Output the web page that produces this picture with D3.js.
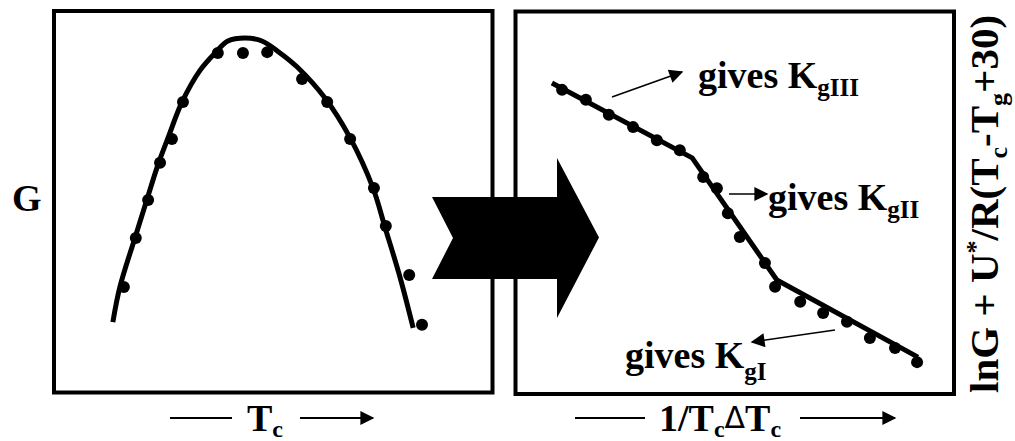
<!DOCTYPE html>
<html>
<head>
<meta charset="utf-8">
<script src="https://cdn.jsdelivr.net/npm/d3@7"></script>
<style>
  html, body { margin: 0; padding: 0; background: #fff; }
  svg text { font-family: "Liberation Serif", "Times New Roman", serif; font-weight: bold; fill: #000; }
</style>
</head>
<body>
<svg id="fig" width="1015" height="441"></svg>
<script>
// Left panel: growth rate G against crystallization temperature Tc (relative units 0-100)
const growthCurveX = [13.8, 15.4, 18.8, 21.5, 24.0, 26.3, 29.5, 33.6, 37.0, 39.9, 43.8, 47.6, 51.7, 55.6, 61.9, 67.6, 72.8, 75.5, 78.9, 81.9];
const growthCurveY = [18.5, 27.7, 40.5, 50.4, 59.5, 66.6, 76.0, 84.3, 88.8, 91.9, 92.7, 91.9, 88.8, 85.1, 77.0, 66.6, 53.5, 43.3, 30.3, 17.0];
const growthPointsX = [16.3, 19.0, 21.8, 24.5, 27.2, 29.7, 37.6, 43.3, 48.8, 56.7, 62.4, 67.6, 73.0, 75.7, 81.0, 83.9];
const growthPointsY = [27.7, 40.5, 50.4, 60.1, 66.3, 76.0, 88.8, 88.8, 89.0, 82.0, 76.0, 66.3, 53.5, 43.6, 30.8, 17.8];

// Right panel: Lauritzen-Hoffman plot, three regimes joined by straight segments
const lhLineX = [8.6, 40.4, 59.6, 91.6];
const lhLineY = [81.0, 61.5, 29.7, 9.6];
const lhPointsX = [10.9, 16.3, 21.5, 27.0, 32.4, 37.6, 42.9, 46.0, 48.5, 51.2, 56.9, 59.2, 64.9, 70.1, 75.5, 80.7, 86.4, 91.4];
const lhPointsY = [79.2, 76.6, 72.7, 69.5, 66.1, 63.5, 56.5, 53.6, 47.1, 40.9, 34.1, 27.9, 24.0, 21.1, 18.8, 14.6, 12.0, 8.3];

// Regime labels and the subscripts they carry
const regimeSubs = ["gIII", "gII", "gI"];

const svg = d3.select("#fig");

// Panel frames
const leftFrame = { x0: 54, x1: 492.5, y0: 11, y1: 392.5 };
const rightFrame = { x0: 515.5, x1: 954, y0: 11.5, y1: 394 };

const xL = d3.scaleLinear().domain([0, 100]).range([52, 493]);
const yL = d3.scaleLinear().domain([0, 100]).range([393, 10]);
const xR = d3.scaleLinear().domain([0, 100]).range([514, 955]);
const yR = d3.scaleLinear().domain([0, 100]).range([394, 10]);

// Arrowhead marker for annotation arrows
const defs = svg.append("defs");
defs.append("marker")
  .attr("id", "head")
  .attr("viewBox", "0 0 10 10")
  .attr("refX", 9).attr("refY", 5)
  .attr("markerUnits", "userSpaceOnUse")
  .attr("markerWidth", 16).attr("markerHeight", 14)
  .attr("orient", "auto")
  .append("path").attr("d", "M0,0 L10,5 L0,10 Z").attr("fill", "#000");

[leftFrame, rightFrame].forEach(f => {
  svg.append("rect")
    .attr("x", f.x0).attr("y", f.y0)
    .attr("width", f.x1 - f.x0).attr("height", f.y1 - f.y0)
    .attr("fill", "none").attr("stroke", "#000").attr("stroke-width", 4);
});

// Left panel curve and points
const leftLine = d3.line().curve(d3.curveCatmullRom.alpha(0.5))
  .x(i => xL(growthCurveX[i])).y(i => yL(growthCurveY[i]));
svg.append("path")
  .attr("d", leftLine(d3.range(growthCurveX.length)))
  .attr("fill", "none").attr("stroke", "#000").attr("stroke-width", 5);
svg.append("g").selectAll("circle")
  .data(d3.range(growthPointsX.length))
  .join("circle")
  .attr("cx", i => xL(growthPointsX[i]))
  .attr("cy", i => yL(growthPointsY[i]))
  .attr("r", 6).attr("fill", "#000");

// Right panel line and points
const rightLine = d3.line().x(i => xR(lhLineX[i])).y(i => yR(lhLineY[i]));
svg.append("path")
  .attr("d", rightLine(d3.range(lhLineX.length)))
  .attr("fill", "none").attr("stroke", "#000").attr("stroke-width", 5)
  .attr("stroke-linejoin", "round");
svg.append("g").selectAll("circle")
  .data(d3.range(lhPointsX.length))
  .join("circle")
  .attr("cx", i => xR(lhPointsX[i]))
  .attr("cy", i => yR(lhPointsY[i]))
  .attr("r", 6).attr("fill", "#000");

// Big transition arrow between the panels
const bigArrow = [[432, 197], [557, 197], [557, 158], [599, 237.5], [557, 318], [557, 279], [432, 279], [453, 238]];
svg.append("path")
  .attr("d", d3.line()(bigArrow) + "Z")
  .attr("fill", "#000");

// Regime annotations: arrow from the line to the label
const annotations = [
  { from: [612, 97], to: [682, 72], text: [698, 88], sub: 8 },
  { from: [729, 194], to: [767, 194], text: [768, 210], sub: 8 },
  { from: [835, 330], to: [752, 342], text: [625, 368], sub: 12 }
];
annotations.forEach((a, k) => {
  svg.append("line")
    .attr("x1", a.from[0]).attr("y1", a.from[1])
    .attr("x2", a.to[0]).attr("y2", a.to[1])
    .attr("stroke", "#000").attr("stroke-width", 1.6)
    .attr("marker-end", "url(#head)");
  const t = svg.append("text").attr("x", a.text[0]).attr("y", a.text[1]).attr("font-size", 38);
  t.append("tspan").text("gives K");
  t.append("tspan").attr("font-size", 25).attr("dy", a.sub).text(regimeSubs[k]);
});

// Axis titles
svg.append("text").attr("x", 12).attr("y", 211).attr("font-size", 38).text("G");

function axisArrow(x1, x2, y, withHead) {
  svg.append("line")
    .attr("x1", x1).attr("y1", y).attr("x2", x2).attr("y2", y)
    .attr("stroke", "#000").attr("stroke-width", 2)
    .attr("marker-end", withHead ? "url(#head)" : null);
}

axisArrow(170, 232, 418, false);
axisArrow(300, 373, 418, true);
const tcLabel = svg.append("text").attr("x", 247).attr("y", 431).attr("font-size", 38);
tcLabel.append("tspan").text("T");
tcLabel.append("tspan").attr("font-size", 24).attr("dy", 6).text("c");

axisArrow(575, 645, 418, false);
axisArrow(800, 895, 418, true);
const invLabel = svg.append("text").attr("x", 659).attr("y", 431).attr("font-size", 38);
invLabel.append("tspan").text("1/T");
invLabel.append("tspan").attr("font-size", 24).attr("dy", 6).text("c");
invLabel.append("tspan").attr("font-size", 30).attr("dy", -9).attr("font-weight", "normal")
  .attr("font-family", "DejaVu Sans").text("\u0394");
invLabel.append("tspan").attr("dy", 3).text("T");
invLabel.append("tspan").attr("font-size", 24).attr("dy", 6).text("c");

// Rotated title on the right
const yTitle = svg.append("text")
  .attr("transform", "translate(998,393) rotate(-90)")
  .attr("font-size", 41);
yTitle.append("tspan").text("lnG + U");
yTitle.append("tspan").attr("font-size", 26).attr("dy", -14).text("*");
yTitle.append("tspan").attr("dy", 14).text("/R(T");
yTitle.append("tspan").attr("font-size", 26).attr("dy", 9).text("c");
yTitle.append("tspan").attr("dy", -9).text("-T");
yTitle.append("tspan").attr("font-size", 26).attr("dy", 9).text("g");
yTitle.append("tspan").attr("dy", -9).text("+30)");
</script>
</body>
</html>
